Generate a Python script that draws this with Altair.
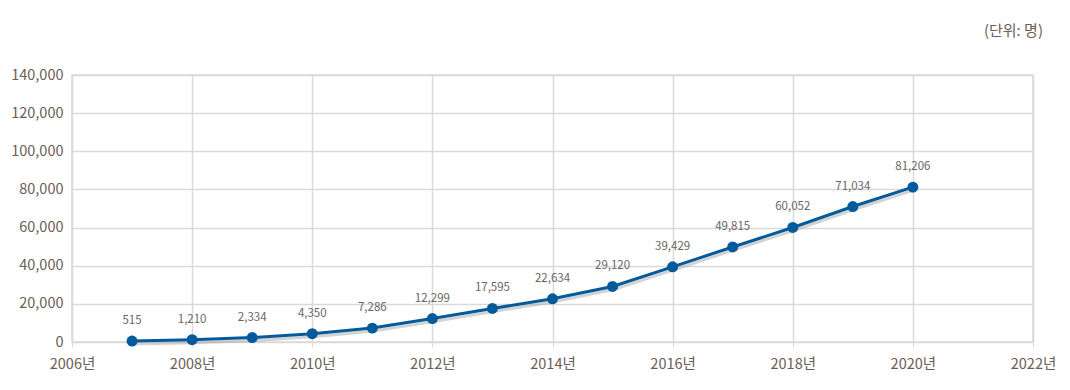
import altair as alt
import pandas as pd

years = [2007, 2008, 2009, 2010, 2011, 2012, 2013, 2014, 2015, 2016, 2017, 2018, 2019, 2020]
values = [515, 1210, 2334, 4350, 7286, 12299, 17595, 22634, 29120, 39429, 49815, 60052, 71034, 81206]

df = pd.DataFrame({"year": years, "value": values})

FONT = "Noto Sans CJK KR"
W, H = 961, 267
LABEL_COLOR = "#6b5d55"

x = alt.X("year:Q", scale=alt.Scale(domain=[2006, 2022], nice=False),
          axis=alt.Axis(values=list(range(2006, 2023, 2)), labelExpr="datum.value + '년'",
                        title=None, labelFontSize=14.5, labelColor=LABEL_COLOR, labelFont=FONT,
                        labelPadding=10, tickSize=5, tickColor="#d9d9d9", domain=True,
                        domainColor="#d9d9d9", gridColor="#d9d9d9", gridWidth=1.5,
                        labelFlush=False))
y = alt.Y("value:Q", scale=alt.Scale(domain=[0, 140000], nice=False),
          axis=alt.Axis(values=list(range(0, 140001, 20000)), format=",d", title=None,
                        labelFontSize=14.5, labelColor=LABEL_COLOR, labelFont=FONT,
                        labelPadding=9, ticks=False, domain=False,
                        gridColor="#d9d9d9", gridWidth=1.5))

base = alt.Chart(df)

shadow = base.mark_line(color="#9e9e9e", strokeWidth=3, opacity=0.45).encode(
    x=x, y=y, xOffset=alt.value(1), yOffset=alt.value(3))
line = base.mark_line(color="#005a9c", strokeWidth=3).encode(x=x, y=y)
points = base.mark_circle(color="#005a9c", size=120, opacity=1).encode(x=x, y=y)
labels = base.mark_text(dy=-20, fontSize=11.5, color="#666666", font=FONT).encode(
    x=x, y=y, text=alt.Text("value:Q", format=",d"))

chart = alt.layer(shadow, line, points, labels).properties(
    width=W, height=H,
    title=alt.TitleParams("(단위: 명)", anchor="end", orient="top", frame="group", fontSize=15,
                          font=FONT, fontWeight="normal", color=LABEL_COLOR, offset=28, dx=10),
    autosize=alt.AutoSizeParams(type="none"),
    padding={"left": 64, "top": 67, "right": 29, "bottom": 40},
).configure_view(stroke="#d9d9d9", strokeWidth=1.5)

chart.save("out.html", embed_options={"renderer": "svg", "actions": False})
